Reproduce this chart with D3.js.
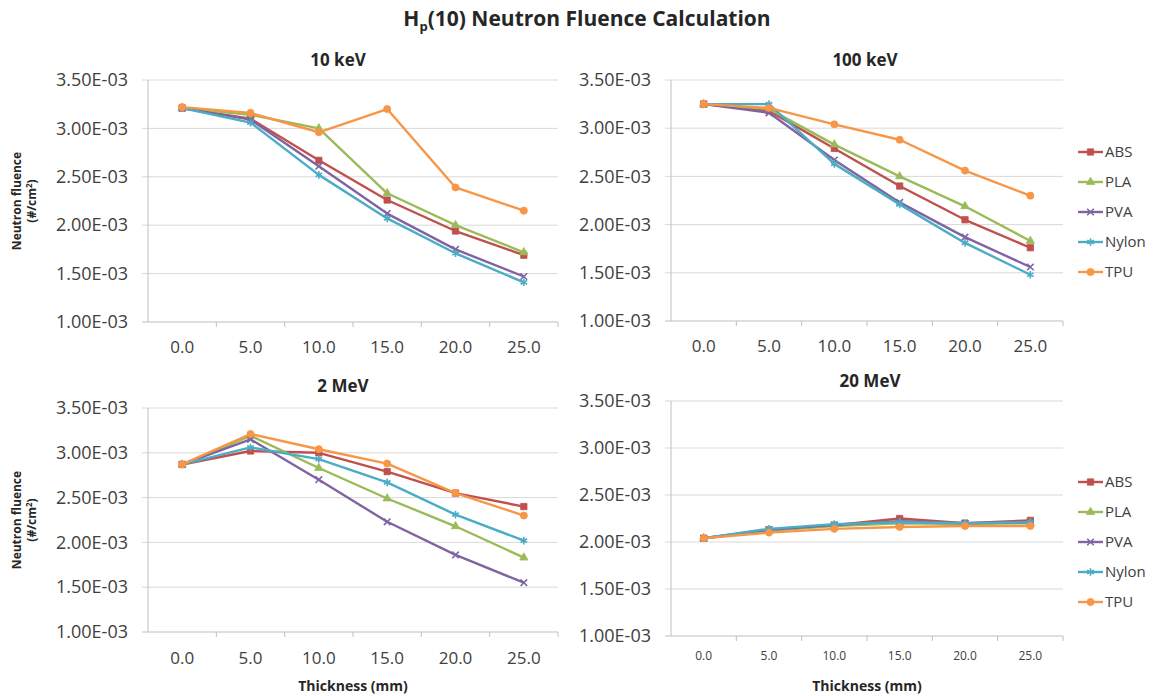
<!DOCTYPE html>
<html>
<head>
<meta charset="utf-8">
<script src="https://cdn.jsdelivr.net/npm/d3@7"></script>
<style>
  body { margin: 0; background: #fff; }
  text { font-family: "Open Sans", sans-serif; }
</style>
</head>
<body>
<script>
// thickness categories (mm) and materials
const thickness = [0, 5, 10, 15, 20, 25];
const materials = ["ABS", "PLA", "PVA", "Nylon", "TPU"];
const yTicks = [1.0e-3, 1.5e-3, 2.0e-3, 2.5e-3, 3.0e-3, 3.5e-3];

// rows follow the materials order: ABS, PLA, PVA, Nylon, TPU
const fluence10keV = [
  [3.21e-3, 3.10e-3, 2.67e-3, 2.26e-3, 1.94e-3, 1.69e-3],
  [3.21e-3, 3.14e-3, 3.00e-3, 2.33e-3, 2.00e-3, 1.72e-3],
  [3.21e-3, 3.09e-3, 2.61e-3, 2.12e-3, 1.75e-3, 1.47e-3],
  [3.21e-3, 3.06e-3, 2.52e-3, 2.07e-3, 1.71e-3, 1.41e-3],
  [3.22e-3, 3.16e-3, 2.96e-3, 3.20e-3, 2.39e-3, 2.15e-3]
];
const fluence100keV = [
  [3.25e-3, 3.18e-3, 2.79e-3, 2.40e-3, 2.05e-3, 1.76e-3],
  [3.25e-3, 3.20e-3, 2.83e-3, 2.50e-3, 2.19e-3, 1.83e-3],
  [3.25e-3, 3.16e-3, 2.67e-3, 2.23e-3, 1.87e-3, 1.56e-3],
  [3.25e-3, 3.25e-3, 2.63e-3, 2.21e-3, 1.81e-3, 1.48e-3],
  [3.25e-3, 3.21e-3, 3.04e-3, 2.88e-3, 2.56e-3, 2.30e-3]
];
const fluence2MeV = [
  [2.87e-3, 3.02e-3, 3.00e-3, 2.79e-3, 2.55e-3, 2.40e-3],
  [2.87e-3, 3.19e-3, 2.83e-3, 2.49e-3, 2.18e-3, 1.83e-3],
  [2.87e-3, 3.15e-3, 2.70e-3, 2.23e-3, 1.86e-3, 1.55e-3],
  [2.87e-3, 3.06e-3, 2.93e-3, 2.67e-3, 2.31e-3, 2.02e-3],
  [2.87e-3, 3.21e-3, 3.04e-3, 2.88e-3, 2.55e-3, 2.30e-3]
];
const fluence20MeV = [
  [2.04e-3, 2.13e-3, 2.18e-3, 2.25e-3, 2.20e-3, 2.23e-3],
  [2.04e-3, 2.12e-3, 2.17e-3, 2.20e-3, 2.19e-3, 2.20e-3],
  [2.04e-3, 2.13e-3, 2.18e-3, 2.22e-3, 2.20e-3, 2.21e-3],
  [2.04e-3, 2.14e-3, 2.19e-3, 2.21e-3, 2.20e-3, 2.21e-3],
  [2.04e-3, 2.10e-3, 2.14e-3, 2.16e-3, 2.17e-3, 2.17e-3]
];

const colors = ["#C0504D", "#9BBB59", "#8064A2", "#4BACC6", "#F79646"];
const symbols = [d3.symbolSquare, d3.symbolTriangle, d3.symbolX, d3.symbolAsterisk, d3.symbolCircle];
const strokeSymbol = [false, false, true, true, false];
const symbolSizes = [40, 30, 30, 40, 40];

const svg = d3.select("body").append("svg")
    .attr("width", 1157)
    .attr("height", 696);

// main title
const title = svg.append("text")
    .attr("x", 587)
    .attr("y", 26)
    .attr("text-anchor", "middle")
    .attr("font-size", "21px")
    .attr("font-weight", "bold")
    .attr("fill", "#262626");
title.append("tspan").text("H");
title.append("tspan").attr("font-size", "13px").attr("dy", 5).text("p");
title.append("tspan").attr("dy", -5).text("(10) Neutron Fluence Calculation");

const fmt = d => `${(d * 1e3).toFixed(2)}E-03`;

function drawMarker(g, i, cx, cy) {
    g.append("path")
        .attr("d", d3.symbol().type(symbols[i]).size(symbolSizes[i])())
        .attr("transform", `translate(${cx},${cy})`)
        .attr("fill", strokeSymbol[i] ? "none" : colors[i])
        .attr("stroke", colors[i])
        .attr("stroke-width", strokeSymbol[i] ? 1.6 : 0.8);
}

function drawPanel(p) {
    const g = svg.append("g");

    const x = d3.scaleBand()
        .domain(thickness)
        .range([p.x0, p.x1]);
    const cx = d => x(d) + x.bandwidth() / 2;

    const y = d3.scaleLinear()
        .domain([1.0e-3, 3.5e-3])
        .range([p.y0, p.y1]);

    // gridlines
    g.selectAll(".grid")
        .data(yTicks)
        .enter().append("line")
        .attr("x1", p.x0 - 6)
        .attr("x2", p.x1)
        .attr("y1", d => y(d))
        .attr("y2", d => y(d))
        .attr("stroke", d => d === 1.0e-3 ? "#bfbfbf" : "#d9d9d9")
        .attr("stroke-width", 1);

    // y axis
    const yAxis = g.append("g")
        .attr("transform", `translate(${p.x0},0)`)
        .call(d3.axisLeft(y).tickValues(yTicks).tickSize(0).tickPadding(20).tickFormat(fmt));
    yAxis.select(".domain").remove();
    yAxis.selectAll("text")
        .attr("font-family", "Open Sans")
        .attr("font-size", "18px")
        .attr("fill", "#404040");

    g.append("line")
        .attr("x1", p.x0).attr("x2", p.x0)
        .attr("y1", p.y1).attr("y2", p.y0)
        .attr("stroke", "#bfbfbf");

    // x axis
    const xAxis = g.append("g")
        .attr("transform", `translate(0,${p.y0})`)
        .call(d3.axisBottom(x).tickSize(0).tickPadding(p.xPad).tickFormat(d => d.toFixed(1)));
    xAxis.select(".domain").remove();
    xAxis.selectAll("text")
        .attr("font-family", "Open Sans")
        .attr("font-size", p.xFont)
        .attr("fill", "#404040");

    g.selectAll(".xtick")
        .data(thickness.slice(1).map(d => x(d)).concat([p.x1]))
        .enter().append("line")
        .attr("x1", d => d).attr("x2", d => d)
        .attr("y1", p.y0).attr("y2", p.y0 + 5)
        .attr("stroke", "#bfbfbf");

    // series
    const line = d3.line()
        .x((d, i) => cx(thickness[i]))
        .y(d => y(d));

    p.data.forEach((series, i) => {
        g.append("path")
            .datum(series)
            .attr("d", line)
            .attr("fill", "none")
            .attr("stroke", colors[i])
            .attr("stroke-width", 2.4)
            .attr("stroke-linejoin", "round");
        series.forEach((v, j) => drawMarker(g, i, cx(thickness[j]), y(v)));
    });

    // panel title
    g.append("text")
        .attr("x", p.tx)
        .attr("y", p.ty)
        .attr("dy", "0.35em")
        .attr("text-anchor", "middle")
        .attr("font-size", "17px")
        .attr("font-weight", "bold")
        .attr("fill", "#262626")
        .text(p.title);

    // y label
    if (p.yLabel) {
        const cy = (p.y0 + p.y1) / 2;
        const yl = g.append("text")
            .attr("transform", `translate(21,${cy}) rotate(-90)`)
            .attr("text-anchor", "middle")
            .attr("font-size", "12px")
            .attr("font-weight", "bold")
            .attr("fill", "#262626");
        yl.append("tspan").attr("x", 0).attr("y", 0).text("Neutron fluence");
        const t2 = yl.append("tspan").attr("x", 0).attr("y", 15).text("(#/cm");
        t2.append("tspan").attr("font-size", "8px").attr("dy", -4).text("2");
        t2.append("tspan").attr("dy", 4).text(")");
    }

    // x label
    if (p.xLabel) {
        g.append("text")
            .attr("x", (p.x0 + p.x1) / 2)
            .attr("y", 686)
            .attr("dy", "0.35em")
            .attr("text-anchor", "middle")
            .attr("font-size", "14px")
            .attr("font-weight", "bold")
            .attr("fill", "#262626")
            .text("Thickness (mm)");
    }

    // legend
    if (p.legendY) {
        materials.forEach((m, i) => {
            const ly = p.legendY + i * 30;
            g.append("line")
                .attr("x1", 1078).attr("x2", 1103)
                .attr("y1", ly).attr("y2", ly)
                .attr("stroke", colors[i])
                .attr("stroke-width", 2.4);
            drawMarker(g, i, 1090.5, ly);
            g.append("text")
                .attr("x", 1105)
                .attr("y", ly)
                .attr("dy", "0.35em")
                .attr("font-size", "15px")
                .attr("fill", "#404040")
                .text(m);
        });
    }
}

drawPanel({ data: fluence10keV, title: "10 keV", x0: 148, x1: 558, y0: 322, y1: 80,
    tx: 338, ty: 60, xPad: 19, xFont: "17px", yLabel: true });
drawPanel({ data: fluence100keV, title: "100 keV", x0: 671, x1: 1063, y0: 321, y1: 80,
    tx: 865, ty: 60, xPad: 19, xFont: "17px", legendY: 152 });
drawPanel({ data: fluence2MeV, title: "2 MeV", x0: 148, x1: 558, y0: 632, y1: 408,
    tx: 343, ty: 386, xPad: 20, xFont: "17px", yLabel: true, xLabel: true });
drawPanel({ data: fluence20MeV, title: "20 MeV", x0: 671, x1: 1063, y0: 636, y1: 401,
    tx: 870, ty: 381, xPad: 15, xFont: "12px", xLabel: true, legendY: 482 });
</script>
</body>
</html>
